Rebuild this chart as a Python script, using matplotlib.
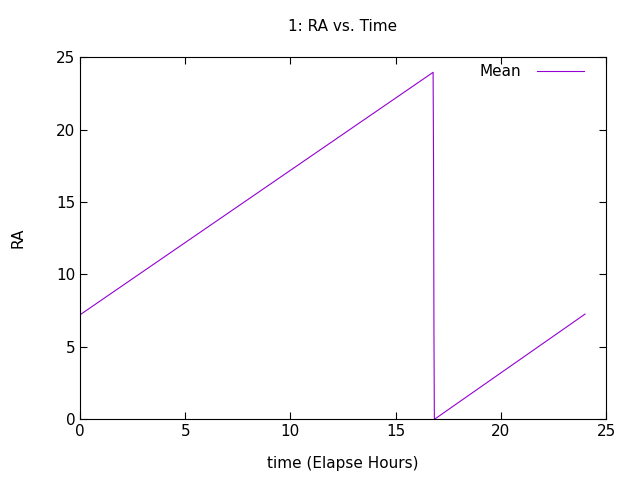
import matplotlib
matplotlib.use("Agg")
import matplotlib.pyplot as plt

time = [0.0, 16.78, 16.80, 16.82, 16.84, 16.86, 24.0]
ra = [7.2, 23.95, 18.0, 6.0, 0.0, 0.0, 7.25]

plt.rcParams['font.family'] = ['DejaVu Sans']
fig = plt.figure(figsize=(6.4, 4.8), dpi=100)
ax = fig.add_axes([0.125, 0.127, 0.822, 0.754])
ax.plot(time, ra, color='#9400D3', lw=0.8)
ax.set_xlim(0, 25)
ax.set_ylim(0, 25)
ax.set_xticks([0, 5, 10, 15, 20, 25])
ax.set_yticks([0, 5, 10, 15, 20, 25])
ax.tick_params(direction='in', top=True, right=True, labelsize=11, length=5)
ax.set_xlabel('time (Elapse Hours)', fontsize=11, labelpad=12)
ax.set_ylabel('RA', fontsize=11, labelpad=22)
ax.set_title('1: RA vs. Time', fontsize=11, pad=19)
ax.plot([21.7, 23.95], [24.03, 24.03], color='#9400D3', lw=0.8)
ax.text(20.96, 24.03, 'Mean', ha='right', va='center', fontsize=11)
fig.savefig('out.png', dpi=100)
